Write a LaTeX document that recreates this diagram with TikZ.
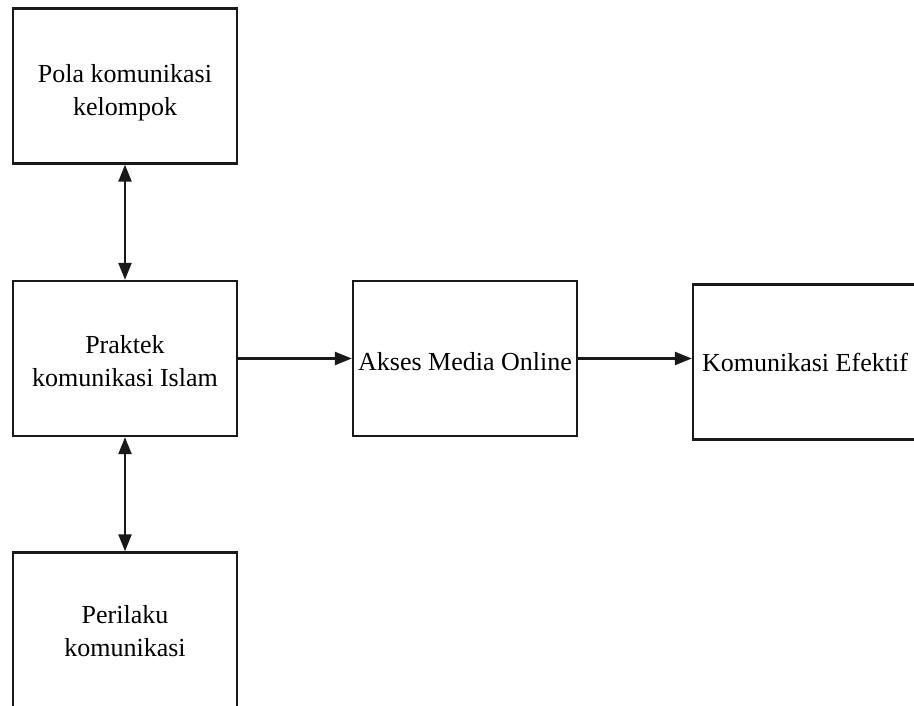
\documentclass[tikz,border=0pt]{standalone}
\usepackage{fontspec}
\setmainfont{Liberation Serif}
\usetikzlibrary{arrows.meta}
\begin{document}
\begin{tikzpicture}[x=1pt,y=-1pt,
  blk/.style={draw=black!90,line width=2.4pt,minimum width=224pt,minimum height=155pt,inner sep=0pt},
  txt/.style={inner sep=0pt,align=center,font=\fontsize{26}{33}\selectfont},
  conn/.style={line width=2.4pt,draw=black!90,-{Triangle[length=17pt,width=13pt]}},
  bconn/.style={line width=2.4pt,draw=black!90,{Triangle[length=17pt,width=13pt]}-{Triangle[length=17pt,width=13pt]}}]
\useasboundingbox (0,0) rectangle (914,706);
\clip (0,0) rectangle (914,706);
\node[blk] (b1) at (125,86) {};
\node[blk] (b2) at (125,358.5) {};
\node[blk] (b3) at (125,630) {};
\node[blk] (b4) at (465,358.5) {};
\node[blk] (b5) at (805,362) {};
\node[txt] (t1) at ([yshift=-7pt]b1.center) {Pola komunikasi\\kelompok};
\node[txt] (t2) at ([yshift=-3pt]b2.center) {Praktek\\komunikasi Islam};
\node[txt] (t3) at ([yshift=-1pt]b3.center) {Perilaku\\komunikasi};
\node[txt] (t4) at ([yshift=-3pt]b4.center) {Akses Media Online};
\node[txt] (t5) at ([yshift=0pt]b5.center) {Komunikasi Efektif};
\draw[bconn] (b1.south) -- (b2.north);
\draw[bconn] (b2.south) -- (b3.north);
\draw[conn] (b2.east) -- (b4.west);
\draw[conn] (b4.east) -- (b4.east -| b5.west);
\end{tikzpicture}
\end{document}
